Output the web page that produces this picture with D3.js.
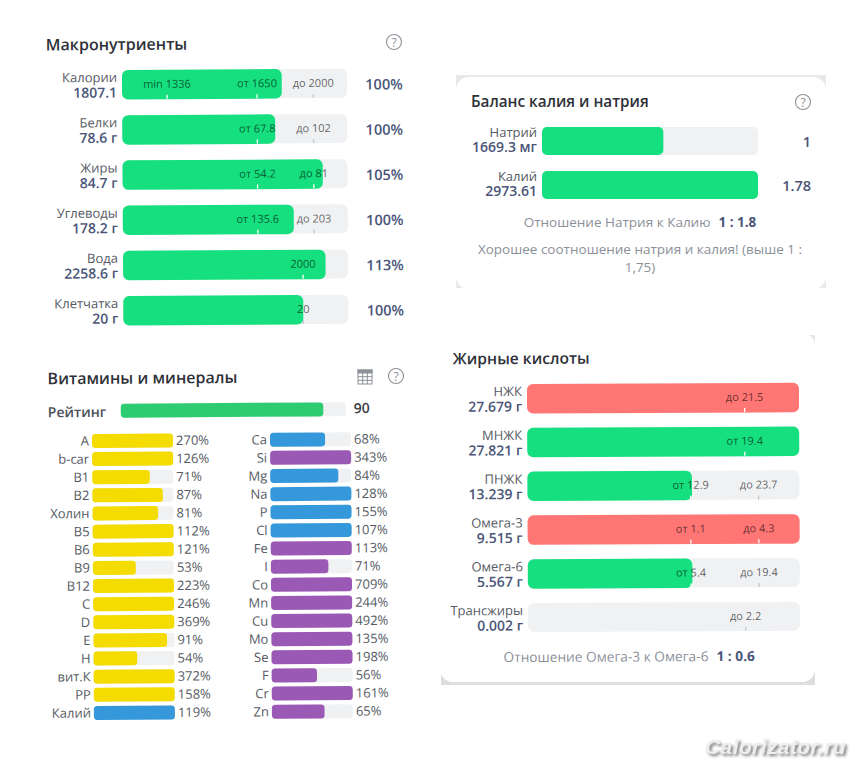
<!DOCTYPE html>
<html>
<head>
<meta charset="utf-8">
<script src="https://cdn.jsdelivr.net/npm/d3@7.9.0/dist/d3.min.js"></script>
<style>
  html, body { margin: 0; padding: 0; background: #fff; }
  svg { display: block; font-family: "Open Sans", sans-serif; }
  .title { font-size: 16px; font-weight: 600; fill: #2e3138; }
  .name { font-size: 13px; fill: #555a63; text-anchor: end; }
  .amount { font-size: 14px; font-weight: 600; fill: #4a5578; text-anchor: end; }
  .pct { font-size: 14.5px; font-weight: 600; fill: #4a5578; }
  .mark { font-size: 11px; fill: #000; fill-opacity: 0.62; text-anchor: middle; }
  .vit { font-size: 13px; fill: #555a63; }
  .note { font-size: 13.5px; fill: #8b9099; text-anchor: middle; }
  .note tspan.b { font-weight: 700; fill: #4a5578; }
</style>
</head>
<body>
<svg id="chart" width="868" height="768"></svg>
<script>
// macronutrients: fill and marks are shares of the track
const macroNames = ['Калории', 'Белки', 'Жиры', 'Углеводы', 'Вода', 'Клетчатка'];
const macroAmounts = ['1807.1', '78.6 г', '84.7 г', '178.2 г', '2258.6 г', '20 г'];
const macroFill = [71, 68, 89, 76, 90, 80];
const macroPct = ['100%', '100%', '105%', '100%', '113%', '100%'];
const macroMarks = [
  [[20, 'min 1336'], [60, 'от 1650'], [85, 'до 2000']],
  [[60, 'от 67.8'], [85, 'до 102']],
  [[60, 'от 54.2'], [85, 'до 81']],
  [[60, 'от 135.6'], [85, 'до 203']],
  [[80, '2000']],
  [[80, '20']]
];

// sodium / potassium
const balanceNames = ['Натрий', 'Калий'];
const balanceAmounts = ['1669.3 мг', '2973.61'];
const balanceRatio = [1, 1.78];

// fatty acids
const fatNames = ['НЖК', 'МНЖК', 'ПНЖК', 'Омега-3', 'Омега-6', 'Трансжиры'];
const fatAmounts = ['27.679 г', '27.821 г', '13.239 г', '9.515 г', '5.567 г', '0.002 г'];
const fatFill = [100, 100, 60.5, 100, 60.5, 0];
const fatStatus = ['bad', 'good', 'good', 'bad', 'good', 'good'];
const fatMarks = [
  [[80, 'до 21.5']],
  [[80, 'от 19.4']],
  [[60, 'от 12.9'], [85, 'до 23.7']],
  [[60, 'от 1.1'], [85, 'до 4.3']],
  [[60, 'от 5.4'], [85, 'до 19.4']],
  [[80, 'до 2.2']]
];

// vitamins and minerals
const rating = 90;
const leftNames = ['A', 'b-car', 'B1', 'B2', 'Холин', 'B5', 'B6', 'B9', 'B12', 'C', 'D', 'E', 'H', 'вит.К', 'PP', 'Калий'];
const leftValues = [270, 126, 71, 87, 81, 112, 121, 53, 223, 246, 369, 91, 54, 372, 158, 119];
const leftKinds = ['vit', 'vit', 'vit', 'vit', 'vit', 'vit', 'vit', 'vit', 'vit', 'vit', 'vit', 'vit', 'vit', 'vit', 'vit', 'macro'];
const rightNames = ['Ca', 'Si', 'Mg', 'Na', 'P', 'Cl', 'Fe', 'I', 'Co', 'Mn', 'Cu', 'Mo', 'Se', 'F', 'Cr', 'Zn'];
const rightValues = [68, 343, 84, 128, 155, 107, 113, 71, 709, 244, 492, 135, 198, 56, 161, 65];
const rightKinds = ['macro', 'trace', 'macro', 'macro', 'macro', 'macro', 'trace', 'trace', 'trace', 'trace', 'trace', 'trace', 'trace', 'trace', 'trace', 'trace'];

const GREEN = '#15df7e', RED = '#ff7675', TRACK = '#f0f1f3';
const kindColor = d3.scaleOrdinal(['vit', 'macro', 'trace'], ['#f5dc00', '#3498db', '#9b59b6']);

const svg = d3.select('#chart');

function questionIcon(x, y) {
  let g = svg.append('g').attr('transform', `translate(${x},${y})`);
  g.append('circle').attr('r', 7.5).attr('fill', 'none').attr('stroke', '#8d9198').attr('stroke-width', 1.1);
  g.append('text').attr('y', 4.5).attr('text-anchor', 'middle').attr('font-size', 12).attr('fill', '#8d9198').text('?');
}

// big rows: track, fill, notches and their labels
function bigRows(g, o) {
  let x = d3.scaleLinear().domain([0, 100]).range(o.xRange);
  let y = d3.scalePoint().domain(o.names).range(o.yRange);
  let h = 29;

  o.names.forEach((name, i) => {
    let cy = y(name);
    g.append('rect').attr('x', x(0)).attr('y', cy - h / 2).attr('width', x(100) - x(0)).attr('height', h)
      .attr('rx', 6).attr('fill', TRACK);
    if (o.fill[i] > 0) {
      g.append('rect').attr('x', x(0)).attr('y', cy - h / 2).attr('width', x(o.fill[i]) - x(0)).attr('height', h + 0.5)
        .attr('rx', 6).attr('fill', o.color(i));
    }
    o.marks[i].forEach(([pos, label]) => {
      g.append('line').attr('x1', x(pos)).attr('x2', x(pos)).attr('y1', cy + h / 2 - 4).attr('y2', cy + h / 2)
        .attr('stroke', pos < o.fill[i] ? '#ffffff' : '#c4c7cc').attr('stroke-width', 1.3);
      g.append('text').attr('class', 'mark').attr('x', x(pos)).attr('y', cy + 3.5).text(label);
    });
    g.append('text').attr('class', 'name').attr('x', x(0) - 5).attr('y', cy - 2.5).text(name);
    g.append('text').attr('class', 'amount').attr('x', x(0) - 5).attr('y', cy + 13).text(o.amounts[i]);
    if (o.pct) {
      g.append('text').attr('class', 'pct').attr('x', x(100) + 37).attr('y', cy + 6.5)
        .attr('text-anchor', 'middle').text(o.pct[i]);
    }
  });
}

// small rows of the vitamins block, bar is clamped at 100%
function smallRows(g, names, values, kinds, x0, x1) {
  let x = d3.scaleLinear().domain([0, 100]).range([x0, x1]).clamp(true);
  let y = d3.scalePoint().domain(names).range([441, 713]);
  names.forEach((name, i) => {
    let cy = y(name);
    g.append('rect').attr('x', x0).attr('y', cy - 7).attr('width', x1 - x0).attr('height', 14).attr('rx', 3.5).attr('fill', TRACK);
    g.append('rect').attr('x', x0).attr('y', cy - 7).attr('width', x(values[i]) - x0).attr('height', 14).attr('rx', 3.5)
      .attr('fill', kindColor(kinds[i]));
    g.append('text').attr('class', 'vit').attr('x', x0 - 3).attr('y', cy + 4.5).attr('text-anchor', 'end').text(name);
    g.append('text').attr('class', 'vit').attr('x', x1 + 3).attr('y', cy + 4.5).text(values[i] + '%');
  });
}

// card backgrounds, the grey only shows at the corners and edges
svg.append('rect').attr('x', 456).attr('y', 75).attr('width', 370).attr('height', 213).attr('fill', '#e9e9e9');
svg.append('rect').attr('x', 456).attr('y', 77).attr('width', 370).attr('height', 212).attr('rx', 13).attr('fill', '#fff');
svg.append('rect').attr('x', 795).attr('y', 335).attr('width', 20).attr('height', 20).attr('fill', '#e6e6e6');
svg.append('rect').attr('x', 441).attr('y', 660).attr('width', 374).attr('height', 25).attr('fill', '#dedede');
svg.append('rect').attr('x', 440).attr('y', 333).attr('width', 375).attr('height', 349).attr('rx', 13).attr('fill', '#fff');

// macros
let macro = svg.append('g').attr('transform', 'rotate(-0.33 122 84)');
macro.append('text').attr('class', 'title').attr('x', 46).attr('y', 50).text('Макронутриенты');
bigRows(macro, {
  names: macroNames, amounts: macroAmounts, fill: macroFill, marks: macroMarks, pct: macroPct,
  xRange: [122, 347], yRange: [84.5, 310.5], color: () => GREEN
});
questionIcon(394, 42);

// balance
let bal = svg.append('g');
bal.append('text').attr('class', 'title').attr('x', 471).attr('y', 107).style('font-size', '15.3px').text('Баланс калия и натрия');
questionIcon(803, 102);
let balX = d3.scaleLinear().domain([0, d3.max(balanceRatio)]).range([542, 758]);
let balY = d3.scalePoint().domain(balanceNames).range([141, 185]);
balanceNames.forEach((name, i) => {
  let cy = balY(name);
  bal.append('rect').attr('x', balX(0)).attr('y', cy - 14).attr('width', balX.range()[1] - balX(0)).attr('height', 28).attr('rx', 5).attr('fill', TRACK);
  bal.append('rect').attr('x', balX(0)).attr('y', cy - 14).attr('width', balX(balanceRatio[i]) - balX(0)).attr('height', 28).attr('rx', 5).attr('fill', GREEN);
  bal.append('text').attr('class', 'name').attr('x', 537).attr('y', cy - 4).text(name);
  bal.append('text').attr('class', 'amount').attr('x', 537).attr('y', cy + 11).text(balanceAmounts[i]);
  bal.append('text').attr('class', 'pct').attr('x', 811).attr('y', cy + 6).attr('text-anchor', 'end').text(balanceRatio[i]);
});
let balNote = bal.append('text').attr('class', 'note').attr('x', 640).attr('y', 227);
balNote.append('tspan').text('Отношение Натрия к Калию');
balNote.append('tspan').attr('class', 'b').attr('dx', 8).text('1 : 1.8');
bal.append('text').attr('class', 'note').attr('x', 640).attr('y', 254).text('Хорошее соотношение натрия и калия! (выше 1 :');
bal.append('text').attr('class', 'note').attr('x', 640).attr('y', 272).text('1,75)');

// vitamins
let vit = svg.append('g').attr('transform', 'rotate(-0.4 92 441)');
vit.append('text').attr('class', 'title').attr('x', 48).attr('y', 384).text('Витамины и минералы');
vit.append('text').attr('x', 48).attr('y', 417).attr('font-size', 14).attr('font-weight', 600).attr('fill', '#4a4f58').text('Рейтинг');
let rateX = d3.scaleLinear().domain([0, 100]).range([121, 346]);
vit.append('rect').attr('x', rateX(0)).attr('y', 404).attr('width', rateX(100) - rateX(0)).attr('height', 14).attr('rx', 3.5).attr('fill', TRACK);
vit.append('rect').attr('x', rateX(0)).attr('y', 404).attr('width', rateX(rating) - rateX(0)).attr('height', 14).attr('rx', 3.5).attr('fill', '#2ecc71');
vit.append('text').attr('x', 354).attr('y', 415).attr('font-size', 14).attr('font-weight', 600).attr('fill', '#3a3f48').text(rating);
smallRows(vit, leftNames, leftValues, leftKinds, 92, 173);
smallRows(vit, rightNames, rightValues, rightKinds, 270, 351);
questionIcon(396, 376);

// table icon next to the question mark
let table = svg.append('g').attr('transform', 'translate(358,370)').attr('fill', 'none').attr('stroke', '#8d9198').attr('stroke-width', 1);
table.append('rect').attr('width', 14).attr('height', 14);
table.append('rect').attr('width', 14).attr('height', 3).attr('fill', '#8d9198');
[4.7, 9.3].forEach(d => table.append('line').attr('x1', d).attr('x2', d).attr('y1', 3).attr('y2', 14));
[6.7, 10.3].forEach(d => table.append('line').attr('x1', 0).attr('x2', 14).attr('y1', d).attr('y2', d));

// fatty acids
let fat = svg.append('g').attr('transform', 'rotate(-0.27 527 398)');
fat.append('text').attr('class', 'title').attr('x', 453).attr('y', 364).style('font-size', '15.6px').text('Жирные кислоты');
bigRows(fat, {
  names: fatNames, amounts: fatAmounts, fill: fatFill, marks: fatMarks,
  xRange: [527, 799], yRange: [398.5, 617.5],
  color: i => fatStatus[i] === 'bad' ? RED : GREEN
});
let fatNote = fat.append('text').attr('class', 'note').attr('x', 628).attr('y', 662).style('font-size', '13.7px');
fatNote.append('tspan').text('Отношение Омега-3 к Омега-6');
fatNote.append('tspan').attr('class', 'b').attr('dx', 8).text('1 : 0.6');

// watermark
svg.append('text').attr('x', 705).attr('y', 754)
  .attr('font-family', '"Liberation Sans", sans-serif').attr('font-size', 21)
  .attr('letter-spacing', 0.4)
  .attr('font-weight', 700).attr('font-style', 'italic').attr('fill', '#eeeeee')
  .style('filter', 'drop-shadow(2px 2px 1.5px #777)')
  .text('Calorizator.ru');
</script>
</body>
</html>
